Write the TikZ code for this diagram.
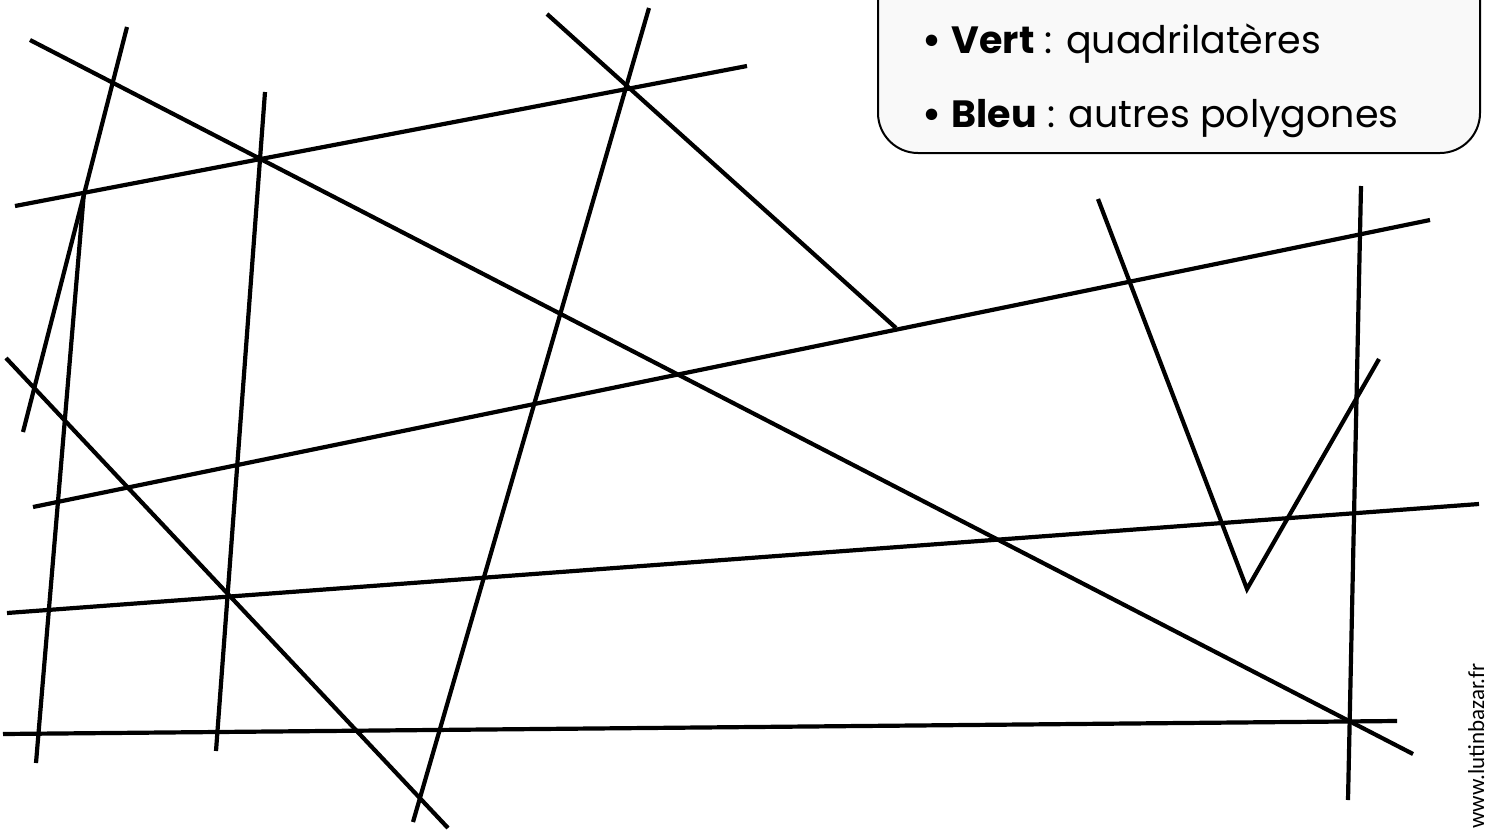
\documentclass[tikz,border=0pt]{standalone}
\usepackage{fontspec}
\setmainfont{Poppins}
\newfontfamily\webfont{Carlito}
\begin{document}
\begin{tikzpicture}[x=0.5pt,y=-0.5pt]
	\tikzstyle{every node}=[inner sep=0pt]
	\tikzstyle{segment}=[line width=2.1pt,black]
	\tikzstyle{legende}=[anchor=base west,font=\fontsize{19}{23}\selectfont]
	\useasboundingbox (0,0) rectangle (1493,830);
	% cadre de la legende
	\draw[line width=1pt,fill=gray!5,rounded corners=20pt] (878,-60) rectangle (1480,153);
	\node[legende] (vert) at (922,53) {\textbf{•} \textbf{Vert} : quadrilatères};
	\node[legende] (bleu) at (922,127) {\textbf{•} \textbf{Bleu} : autres polygones};
	% les droites
	\draw[segment] (30,40)--(1413,754);
	\draw[segment] (127,27)--(23,432);
	\draw[segment] (15,206)--(747,66);
	\draw[segment] (265,92)--(216,751);
	\draw[segment] (84,192)--(36,763);
	\draw[segment] (547,14)--(896,328);
	\draw[segment] (33,507)--(1430,220);
	\draw[segment] (649,8)--(413,822);
	\draw[segment] (6,358)--(448,828);
	\draw[segment] (7,613)--(1479,504);
	\draw[segment] (3,734)--(1397,721);
	\draw[segment] (1361,186)--(1348,800);
	\draw[segment] (1098,199)--(1247,589)--(1379,359);
	\node[rotate=90,anchor=base west,font=\webfont\fontsize{11.5}{13}\selectfont] (site) at (1484,829) {www.lutinbazar.fr};
\end{tikzpicture}
\end{document}
